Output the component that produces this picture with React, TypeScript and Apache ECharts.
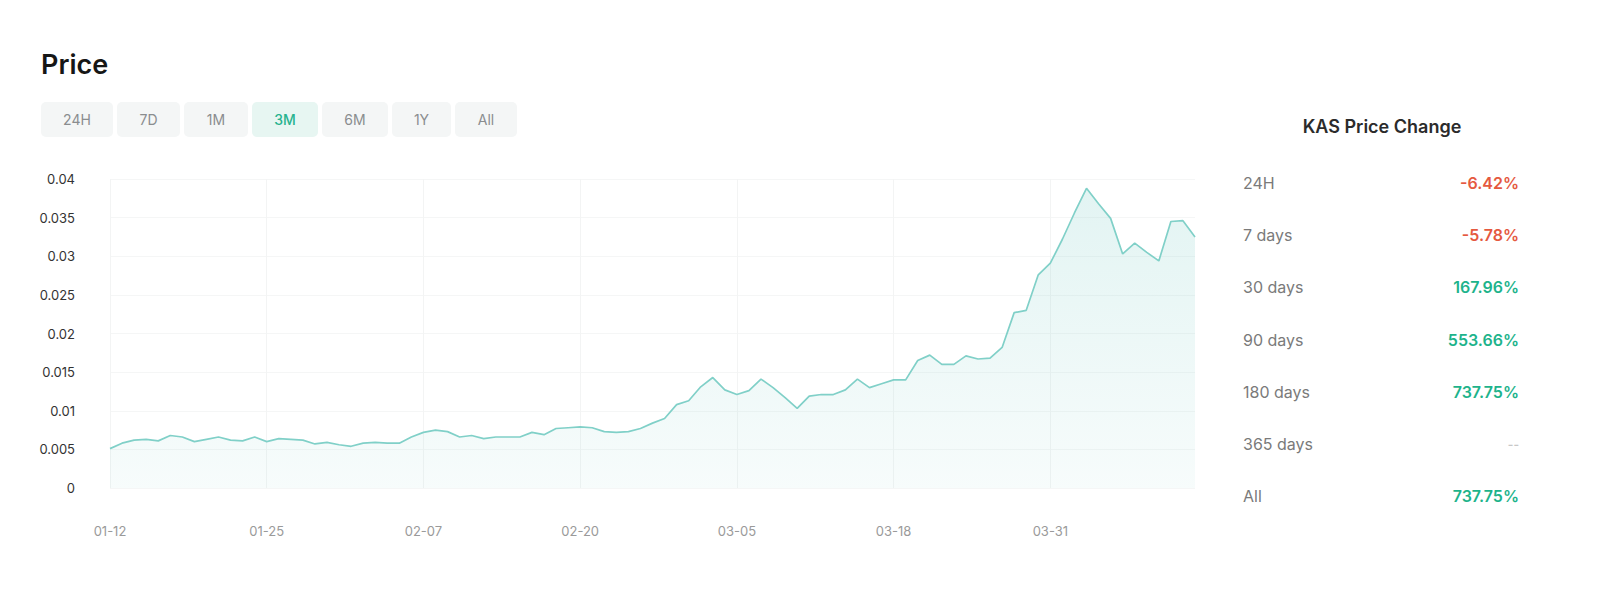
import React, { useEffect, useRef } from "react";
import * as echarts from "echarts";

// ---------- data ----------
const dates = [
  "01-12","01-13","01-14","01-15","01-16","01-17","01-18","01-19","01-20","01-21",
  "01-22","01-23","01-24","01-25","01-26","01-27","01-28","01-29","01-30","01-31",
  "02-01","02-02","02-03","02-04","02-05","02-06","02-07","02-08","02-09","02-10",
  "02-11","02-12","02-13","02-14","02-15","02-16","02-17","02-18","02-19","02-20",
  "02-21","02-22","02-23","02-24","02-25","02-26","02-27","02-28","03-01","03-02",
  "03-03","03-04","03-05","03-06","03-07","03-08","03-09","03-10","03-11","03-12",
  "03-13","03-14","03-15","03-16","03-17","03-18","03-19","03-20","03-21","03-22",
  "03-23","03-24","03-25","03-26","03-27","03-28","03-29","03-30","03-31","04-01",
  "04-02","04-03","04-04","04-05","04-06","04-07","04-08","04-09","04-10","04-11",
  "04-12",
];

const prices = [
  0.0051, 0.0058, 0.0062, 0.0063, 0.0061, 0.0068, 0.0066, 0.0060, 0.0063, 0.0066,
  0.0062, 0.0061, 0.0066, 0.0060, 0.0064, 0.0063, 0.0062, 0.0057, 0.0059, 0.0056,
  0.0054, 0.0058, 0.0059, 0.0058, 0.0058, 0.0066, 0.0072, 0.0075, 0.0073, 0.0066,
  0.0068, 0.0064, 0.0066, 0.0066, 0.0066, 0.0072, 0.0069, 0.0077, 0.0078, 0.0079,
  0.0078, 0.0073, 0.0072, 0.0073, 0.0077, 0.0084, 0.0090, 0.0108, 0.0113, 0.0131,
  0.0143, 0.0127, 0.0121, 0.0126, 0.0141, 0.0130, 0.0117, 0.0103, 0.0119, 0.0121,
  0.0121, 0.0127, 0.0141, 0.0130, 0.0135, 0.0140, 0.0140, 0.0165, 0.0172, 0.0160,
  0.0160, 0.0171, 0.0167, 0.0168, 0.0182, 0.0227, 0.0230, 0.0276, 0.0291, 0.0322,
  0.0356, 0.0388, 0.0368, 0.0349, 0.0303, 0.0317, 0.0305, 0.0294, 0.0345, 0.0346,
  0.0325,
];

const yMin = 0;
const yMax = 0.04;
const yStep = 0.005;

const title = "Price";
const periods = ["24H", "7D", "1M", "3M", "6M", "1Y", "All"];
const activePeriod = "3M";

const changeTitle = "KAS Price Change";
const changeLabels = ["24H", "7 days", "30 days", "90 days", "180 days", "365 days", "All"];
const changeValues = ["-6.42%", "-5.78%", "167.96%", "553.66%", "737.75%", "--", "737.75%"];

// ---------- layout / style ----------
const W = 1600;
const H = 611;
const FONT = "Inter, 'Noto Sans', sans-serif";
const buttonWidths = [72, 63, 64, 66, 66, 59, 62];
const buttonGap = 4;
const buttonX0 = 41;
const buttonY = 102;
const buttonH = 35;

const GREEN = "#1db38b";
const RED = "#e5593f";
const LINE = "#80d0c8";

export default function App() {
  const ref = useRef<HTMLDivElement>(null);

  useEffect(() => {
    if (!ref.current) return;
    const chart = echarts.init(ref.current, undefined, { renderer: "svg", width: W, height: H });

    const graphics: any[] = [];
    graphics.push({
      type: "text",
      style: {
        text: title,
        x: 41,
        y: 64,
        fill: "#161616",
        fontSize: 27,
        fontWeight: 600,
        fontFamily: FONT,
        verticalAlign: "middle",
      },
    });

    let bx = buttonX0;
    periods.forEach((p, i) => {
      const w = buttonWidths[i];
      const active = p === activePeriod;
      graphics.push({
        type: "group",
        x: bx,
        y: buttonY,
        children: [
          {
            type: "rect",
            shape: { x: 0, y: 0, width: w, height: buttonH, r: 5 },
            style: { fill: active ? "#e7f6f2" : "#f4f6f6" },
          },
          {
            type: "text",
            style: {
              text: p,
              x: w / 2,
              y: buttonH / 2,
              align: "center",
              verticalAlign: "middle",
              fill: active ? "#27b38f" : "#8a8d8f",
              fontSize: 14,
              fontWeight: active ? 500 : 400,
              fontFamily: FONT,
            },
          },
        ],
      });
      bx += w + buttonGap;
    });

    graphics.push({
      type: "text",
      style: {
        text: changeTitle,
        x: 1382,
        y: 126,
        align: "center",
        verticalAlign: "middle",
        fill: "#2b2b2b",
        fontSize: 18,
        fontWeight: 600,
        fontFamily: FONT,
      },
    });

    changeLabels.forEach((lab, i) => {
      const y = 183 + i * 52.2;
      const v = changeValues[i];
      const color = v === "--" ? "#c8c8c8" : v.startsWith("-") ? RED : GREEN;
      graphics.push({
        type: "text",
        style: {
          text: lab,
          x: 1243,
          y,
          align: "left",
          verticalAlign: "middle",
          fill: "#7a7a7a",
          fontSize: 16,
          fontFamily: FONT,
        },
      });
      graphics.push({
        type: "text",
        style: {
          text: v,
          x: 1519,
          y,
          align: "right",
          verticalAlign: "middle",
          fill: color,
          fontSize: v === "--" ? 12 : 16,
          fontWeight: 600,
          fontFamily: FONT,
        },
      });
    });

    chart.setOption({
      animation: false,
      backgroundColor: "#ffffff",
      textStyle: { fontFamily: FONT },
      grid: { left: 110, right: W - 1195, top: 179, bottom: H - 488, containLabel: false },
      xAxis: {
        type: "category",
        data: dates,
        boundaryGap: false,
        axisLine: { show: false },
        axisTick: { show: false },
        axisLabel: { interval: 12, color: "#9a9a9a", fontSize: 13, margin: 36, fontFamily: FONT },
        splitLine: { show: true, interval: 12, lineStyle: { color: "#f3f4f4", width: 1 } },
      },
      yAxis: {
        type: "value",
        min: yMin,
        max: yMax,
        interval: yStep,
        axisLine: { show: false },
        axisTick: { show: false },
        axisLabel: {
          color: "#333333",
          fontSize: 13,
          margin: 35,
          fontFamily: FONT,
          formatter: (v: number) => String(parseFloat(v.toFixed(4))),
        },
        splitLine: { show: true, lineStyle: { color: "#f5f6f6", width: 1 } },
      },
      series: [
        {
          type: "line",
          data: prices,
          showSymbol: false,
          smooth: false,
          lineStyle: { color: LINE, width: 1.7 },
          itemStyle: { color: LINE },
          areaStyle: {
            color: new echarts.graphic.LinearGradient(0, 0, 0, 1, [
              { offset: 0, color: "rgba(128,206,200,0.32)" },
              { offset: 1, color: "rgba(128,206,200,0.09)" },
            ]),
          },
        },
      ],
      graphic: graphics,
    });

    return () => chart.dispose();
  }, []);

  return (
    <div
      ref={ref}
      style={{ position: "absolute", left: 0, top: 0, width: W, height: H, background: "#fff" }}
    />
  );
}
